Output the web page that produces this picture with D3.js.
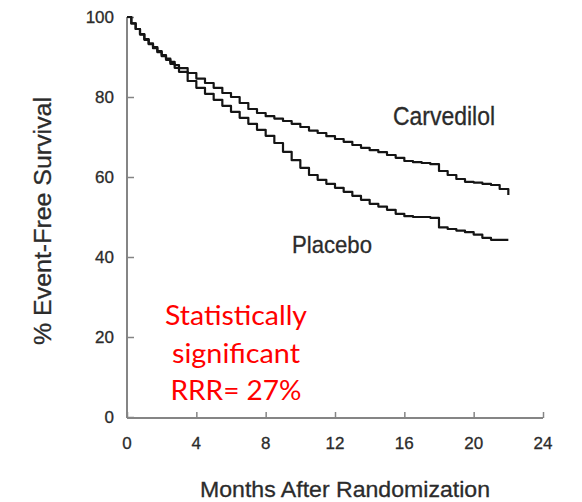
<!DOCTYPE html>
<html>
<head>
<meta charset="utf-8">
<script src="https://cdn.jsdelivr.net/npm/d3@7"></script>
<style>
  html, body { margin: 0; padding: 0; background: #fff; }
  svg { display: block; }
</style>
</head>
<body>
<script>
// ---- data ----
const months = [0,0.25,0.5,0.75,1,1.25,1.5,1.75,2,2.25,2.5,2.75,3,3.5,4,4.5,5,5.5,6,6.5,7,7.5,8,8.5,9,9.5,10,10.5,11,11.5,12,12.5,13,13.5,14,14.5,15,15.5,16,16.5,17,17.5,18,18.5,19,19.5,20,20.5,21,21.5,22];
const carvedilol = [100,98.4,97,95.7,94.5,93.4,92.5,91.5,90.5,89.6,88.8,88,87.2,86,84.6,83.5,82.3,81,80,78.5,77,76,75.2,74.6,74,73.3,72.5,71.6,71,70.2,69.5,68.8,68,67.3,66.7,66.2,65.5,64.8,64,63.7,63.5,63.2,61.5,60.5,59.5,58.8,58.6,58.3,58,57,55.5];
const placebo = [100,98.4,97,95.6,94.3,93.2,92.2,91.2,90.2,89.3,88.3,87.3,86.3,84,82.3,80.8,79.3,77.8,76.3,74.8,73.3,71.8,70.3,68.5,66.3,64.2,62.3,60.5,59.3,58.3,57.3,56.3,55.3,54.3,53.3,52.6,51.8,50.8,50.2,50,50,49.8,47.4,47,46.6,46.2,45.6,44.8,44.3,44.3,44.3];
const xTicks = [0,4,8,12,16,20,24];
const yTicks = [0,20,40,60,80,100];
const seriesLabels = ["Carvedilol","Placebo"];
const noteLines = ["Statistically","significant","RRR= 27%"];
const xTitle = "Months After Randomization";
const yTitle = "% Event-Free Survival";

const W = 582, H = 502;
const svg = d3.select("body").append("svg").attr("width", W).attr("height", H);

const x = d3.scaleLinear().domain([0, 24]).range([127, 543]);
const y = d3.scaleLinear().domain([0, 100]).range([417, 17]);

const axisColor = "#858585";
const textColor = "#2b2b2b";
const fontStack = "Liberation Sans, Arial, sans-serif";

// y axis
const yAxis = svg.append("g").attr("transform", `translate(${x(0)},0)`)
  .call(d3.axisRight(y).tickValues(yTicks).tickSize(7).tickFormat(""));
yAxis.select(".domain").attr("stroke", axisColor).attr("stroke-width", 2).attr("d", `M0,${y(100)}V${y(0)+1}`);
yAxis.selectAll(".tick line").attr("stroke", axisColor).attr("stroke-width", 1.5);
svg.append("g").selectAll("text").data(yTicks).join("text")
  .attr("x", 114).attr("y", d => y(d)).attr("dy", "0.36em")
  .attr("text-anchor", "end")
  .attr("font-family", fontStack).attr("font-size", 17)
  .attr("fill", textColor).attr("stroke", textColor).attr("stroke-width", 0.3)
  .text(d => d);

// x axis
const xAxis = svg.append("g").attr("transform", `translate(0,${y(0)+1})`)
  .call(d3.axisTop(x).tickValues(xTicks).tickSize(6).tickFormat(""));
xAxis.select(".domain").attr("stroke", axisColor).attr("stroke-width", 2).attr("d", `M${x(0)},0H${x(24)}`);
xAxis.selectAll(".tick line").attr("stroke", axisColor).attr("stroke-width", 1.5);
svg.append("g").selectAll("text").data(xTicks).join("text")
  .attr("x", d => x(d)).attr("y", 449)
  .attr("text-anchor", "middle")
  .attr("font-family", fontStack).attr("font-size", 17)
  .attr("fill", textColor).attr("stroke", textColor).attr("stroke-width", 0.3)
  .text(d => d);

// titles
svg.append("text")
  .attr("x", 345).attr("y", 497).attr("text-anchor", "middle")
  .attr("font-family", fontStack).attr("font-size", 22)
  .attr("textLength", 290).attr("lengthAdjust", "spacingAndGlyphs")
  .attr("fill", textColor).attr("stroke", textColor).attr("stroke-width", 0.3)
  .text(xTitle);
svg.append("text")
  .attr("transform", "translate(51,221) rotate(-90)").attr("text-anchor", "middle")
  .attr("font-family", fontStack).attr("font-size", 23)
  .attr("textLength", 248).attr("lengthAdjust", "spacingAndGlyphs")
  .attr("fill", textColor).attr("stroke", textColor).attr("stroke-width", 0.3)
  .text(yTitle);

// curves
const line = d3.line().x((d, i) => x(months[i])).y(d => y(d)).curve(d3.curveStepAfter);
[carvedilol, placebo].forEach(s => {
  svg.append("path").datum(s).attr("d", line)
    .attr("fill", "none").attr("stroke", "#151515").attr("stroke-width", 2.2)
    .attr("stroke-linejoin", "round");
});

// series labels
svg.append("text").attr("x", 393).attr("y", 125)
  .attr("font-family", fontStack).attr("font-size", 25)
  .attr("textLength", 102).attr("lengthAdjust", "spacingAndGlyphs")
  .attr("fill", textColor).attr("stroke", textColor).attr("stroke-width", 0.3)
  .text(seriesLabels[0]);
svg.append("text").attr("x", 292).attr("y", 253)
  .attr("font-family", fontStack).attr("font-size", 24)
  .attr("textLength", 80).attr("lengthAdjust", "spacingAndGlyphs")
  .attr("fill", textColor).attr("stroke", textColor).attr("stroke-width", 0.3)
  .text(seriesLabels[1]);

// red note
const noteBase = [325, 363, 400];
const noteW = [142, 128, 131];
svg.append("g").selectAll("text").data(noteLines).join("text")
  .attr("x", 236).attr("y", (d, i) => noteBase[i]).attr("text-anchor", "middle")
  .attr("font-family", "Lato, Open Sans, sans-serif").attr("font-size", 27)
  .attr("textLength", (d, i) => noteW[i]).attr("lengthAdjust", "spacingAndGlyphs")
  .attr("fill", "#ff0000").text(d => d);
</script>
</body>
</html>
